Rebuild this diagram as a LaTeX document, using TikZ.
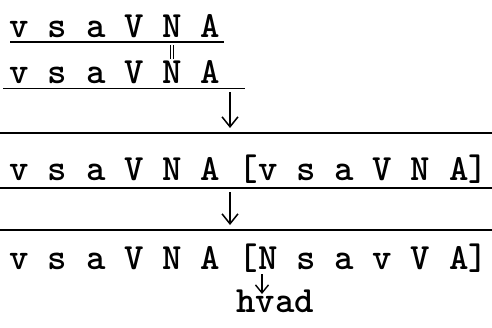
\documentclass[tikz,border=0pt]{standalone}
\usetikzlibrary{arrows.meta}
\begin{document}
\begin{tikzpicture}[x=1pt,y=-1pt,
  ch/.style={inner sep=0pt,anchor=base,font=\ttfamily\bfseries\fontsize{37}{40}\selectfont},
  rule/.style={line width=1.8pt},
  down/.style={line width=1.5pt,-{Straight Barb[length=10pt,width=16pt,line width=1.5pt]}},
  smalldown/.style={line width=1.4pt,-{Straight Barb[length=8pt,width=13pt,line width=1.4pt]}},
  same/.style={line width=1pt}]
\useasboundingbox (0,0) rectangle (492,327);
% row 1
\foreach \i/\c in {0/v,2/s,4/a,6/V,8/N,10/A}
  \node[ch] (r1-\i) at ({19.5+\i*19.1},37) {\c};
\draw[rule] (10,42) -- (224,42);
% row 2
\foreach \i/\c in {0/v,2/s,4/a,6/V,8/N,10/A}
  \node[ch] (r2-\i) at ({19.5+\i*19.1},83) {\c};
\draw[rule] (3,88.5) -- (245,88.5);
\draw[same,shorten <=8pt,shorten >=1pt] ([xshift=-1.6pt]r1-8.south) -- ([xshift=-1.6pt]r2-8.north);
\draw[same,shorten <=8pt,shorten >=1pt] ([xshift=1.6pt]r1-8.south) -- ([xshift=1.6pt]r2-8.north);
% arrow 1
\coordinate (a1s) at (230,92);
\coordinate (a1e) at (230,128);
\draw[down] (a1s) -- (a1e);
\draw[rule] (0,133) -- (492,133);
% row 3
\foreach \i/\c in {0/v,2/s,4/a,6/V,8/N,10/A,12/{[},13/v,15/s,17/a,19/V,21/N,23/A,24/{]}}
  \node[ch] (r3-\i) at ({19.5+\i*19.1},180) {\c};
\draw[rule] (0,188) -- (492,188);
% arrow 2
\coordinate (a2s) at (230,192);
\coordinate (a2e) at (230,225);
\draw[down] (a2s) -- (a2e);
\draw[rule] (0,230) -- (492,230);
% row 4
\foreach \i/\c in {0/v,2/s,4/a,6/V,8/N,10/A,12/{[},13/N,15/s,17/a,19/v,21/V,23/A,24/{]}}
  \node[ch] (r4-\i) at ({19.5+\i*19.1},269) {\c};
\node[ch] (hvad) at (275,312) {hvad};
\coordinate (a3e) at (262,294);
\draw[smalldown,shorten <=5pt] (r4-13.south -| a3e) -- (a3e);
\end{tikzpicture}
\end{document}
